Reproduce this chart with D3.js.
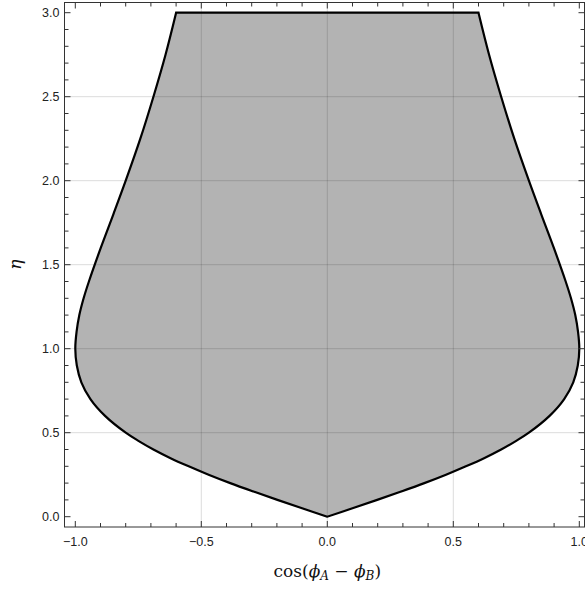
<!DOCTYPE html>
<html>
<head>
<meta charset="utf-8">
<script src="https://cdn.jsdelivr.net/npm/d3@7"></script>
<style>
  body { margin: 0; background: #fff; }
  svg { display: block; }
</style>
</head>
<body>
<div id="chart"></div>
<script>
// eta values along the boundary (bottom to top)
var etaVals = [0, 0.05, 0.1, 0.15, 0.2, 0.25, 0.3, 0.35, 0.4, 0.45, 0.5, 0.6, 0.7, 0.8, 0.9,
               1.0, 1.1, 1.2, 1.3, 1.4, 1.6, 1.8, 2.0, 2.25, 2.5, 2.75, 3.0];
// boundary position on the left and right
var leftCos  = [0, -0.10, -0.198, -0.293, -0.385, -0.471, -0.55, -0.624, -0.69, -0.748, -0.80, -0.882, -0.94, -0.976, -0.994,
                -1.0, -0.995, -0.984, -0.967, -0.946, -0.899, -0.849, -0.80, -0.742, -0.69, -0.642, -0.60];
var rightCos = [0, 0.10, 0.198, 0.293, 0.385, 0.471, 0.55, 0.624, 0.69, 0.748, 0.80, 0.882, 0.94, 0.976, 0.994,
                1.0, 0.995, 0.984, 0.967, 0.946, 0.899, 0.849, 0.80, 0.742, 0.69, 0.642, 0.60];

var majorX = [-1, -0.5, 0, 0.5, 1];
var majorY = [0, 0.5, 1, 1.5, 2, 2.5, 3];
var gridX = [-0.5, 0, 0.5];
var gridY = [0.5, 1, 1.5, 2, 2.5];

var width = 585, height = 592;
var frame = {left: 64.5, right: 584.5, top: 2.5, bottom: 527};

var x = d3.scaleLinear().domain([-1, 1]).range([75.3, 579.3]);
var y = d3.scaleLinear().domain([0, 3]).range([516.7, 12.7]);

var minorX = d3.range(-10, 11).map(function(i) { return i / 10; }).filter(function(v) { return majorX.indexOf(v) < 0; });
var minorY = d3.range(0, 31).map(function(i) { return i / 10; }).filter(function(v) { return majorY.indexOf(v) < 0; });

var svg = d3.select("#chart").append("svg")
    .attr("width", width)
    .attr("height", height);

// region
var side = d3.line()
    .x(function(d) { return x(d[0]); })
    .y(function(d) { return y(d[1]); })
    .curve(d3.curveCatmullRom);

var leftPts = etaVals.map(function(e, i) { return [leftCos[i], e]; });
var rightPts = etaVals.map(function(e, i) { return [rightCos[i], e]; }).reverse();

var pathStr = side(leftPts) + "L" + side(rightPts).slice(1) + "Z";

svg.append("path")
    .attr("d", pathStr)
    .attr("fill", "#b3b3b3")
    .attr("stroke", "none");

// grid lines
svg.append("g").selectAll("line")
    .data(gridX)
    .enter().append("line")
    .attr("x1", function(d) { return x(d); })
    .attr("x2", function(d) { return x(d); })
    .attr("y1", frame.top)
    .attr("y2", frame.bottom)
    .attr("stroke", "#000")
    .attr("stroke-opacity", 0.14);

svg.append("g").selectAll("line")
    .data(gridY)
    .enter().append("line")
    .attr("x1", frame.left)
    .attr("x2", frame.right)
    .attr("y1", function(d) { return y(d); })
    .attr("y2", function(d) { return y(d); })
    .attr("stroke", "#000")
    .attr("stroke-opacity", 0.14);

svg.append("path")
    .attr("d", pathStr)
    .attr("fill", "none")
    .attr("stroke", "#000")
    .attr("stroke-width", 2.2)
    .attr("stroke-linejoin", "miter");

// frame
svg.append("rect")
    .attr("x", frame.left)
    .attr("y", frame.top)
    .attr("width", frame.right - frame.left)
    .attr("height", frame.bottom - frame.top)
    .attr("fill", "none")
    .attr("stroke", "#333")
    .attr("stroke-width", 1);

function ticks(g, vals, len, orient) {
    g.selectAll("line." + orient + len)
        .data(vals)
        .enter().append("line")
        .attr("stroke", "#333")
        .attr("x1", function(d) {
            if (orient === "b" || orient === "t") return x(d);
            return orient === "l" ? frame.left : frame.right;
        })
        .attr("x2", function(d) {
            if (orient === "b" || orient === "t") return x(d);
            return orient === "l" ? frame.left + len : frame.right - len;
        })
        .attr("y1", function(d) {
            if (orient === "l" || orient === "r") return y(d);
            return orient === "b" ? frame.bottom : frame.top;
        })
        .attr("y2", function(d) {
            if (orient === "l" || orient === "r") return y(d);
            return orient === "b" ? frame.bottom - len : frame.top + len;
        });
}

var tg = svg.append("g");
["b", "t"].forEach(function(o) { ticks(tg, majorX, 6, o); ticks(tg, minorX, 4, o); });
["l", "r"].forEach(function(o) { ticks(tg, majorY, 6, o); ticks(tg, minorY, 4, o); });

var fmt = d3.format(".1f");

svg.append("g").selectAll("text")
    .data(majorX)
    .enter().append("text")
    .attr("x", function(d) { return x(d); })
    .attr("y", 546)
    .attr("text-anchor", "middle")
    .style("font-family", "'Liberation Sans', Arial, sans-serif")
    .style("font-size", "12.5px")
    .attr("fill", "#222")
    .text(function(d) { return fmt(d); });

svg.append("g").selectAll("text")
    .data(majorY)
    .enter().append("text")
    .attr("x", 59.5)
    .attr("y", function(d) { return y(d) + 4.5; })
    .attr("text-anchor", "end")
    .style("font-family", "'Liberation Sans', Arial, sans-serif")
    .style("font-size", "12.5px")
    .attr("fill", "#222")
    .text(function(d) { return fmt(d); });

// axis labels
var xl = svg.append("text")
    .attr("x", x(0))
    .attr("y", 577)
    .attr("text-anchor", "middle")
    .style("font-family", "'DejaVu Serif', 'Liberation Serif', serif")
    .style("font-size", "17px")
    .attr("fill", "#111");
xl.append("tspan").text("cos(");
xl.append("tspan").style("font-style", "italic").text("ϕ");
xl.append("tspan").attr("dy", 3).style("font-size", "12px").style("font-style", "italic").text("A");
xl.append("tspan").attr("dy", -3).text(" − ");
xl.append("tspan").style("font-style", "italic").text("ϕ");
xl.append("tspan").attr("dy", 3).style("font-size", "12px").style("font-style", "italic").text("B");
xl.append("tspan").attr("dy", -3).text(")");

svg.append("text")
    .attr("transform", "translate(21," + y(1.5) + ") rotate(-90)")
    .attr("text-anchor", "middle")
    .style("font-family", "'DejaVu Serif', 'Liberation Serif', serif")
    .style("font-size", "17px")
    .style("font-style", "italic")
    .attr("fill", "#111")
    .text("η");
</script>
</body>
</html>
